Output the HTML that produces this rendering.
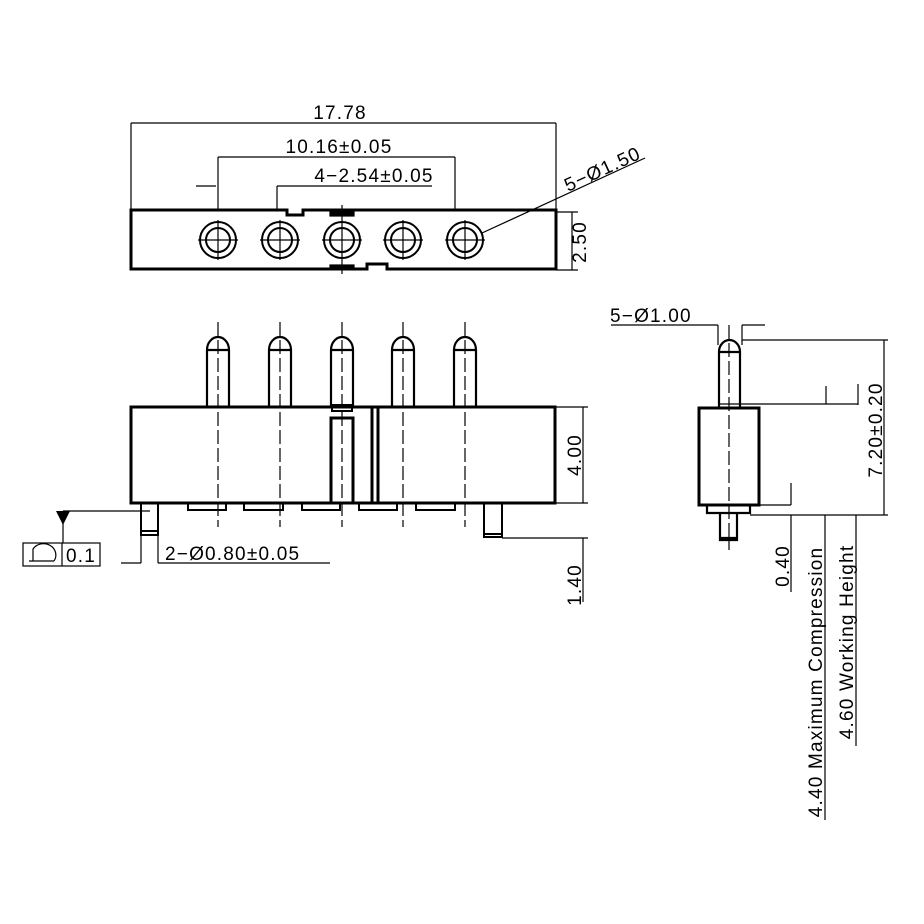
<!DOCTYPE html>
<html><head><style>html,body{margin:0;padding:0;background:#fff}svg{display:block}text{font-family:"Liberation Sans",sans-serif;font-size:19px;letter-spacing:1.2px;fill:#000;stroke:none}</style></head>
<body>
<svg width="924" height="924" viewBox="0 0 924 924" xmlns="http://www.w3.org/2000/svg" stroke="#000" fill="none">
<!-- TOP VIEW -->
<g stroke-width="1.2">
<line x1="131" y1="123" x2="556" y2="123"/><line x1="131" y1="123" x2="131" y2="209"/><line x1="556" y1="123" x2="556" y2="209"/>
<line x1="218" y1="157" x2="455" y2="157"/><line x1="218" y1="157" x2="218" y2="209"/><line x1="455" y1="157" x2="455" y2="209"/>
<line x1="196" y1="186" x2="216" y2="186"/>
<line x1="277" y1="186" x2="432" y2="186"/><line x1="277" y1="186" x2="277" y2="209"/>
<line x1="556" y1="212" x2="578" y2="212"/><line x1="556" y1="270" x2="578" y2="270"/><line x1="572" y1="212" x2="572" y2="270"/>
<line x1="482" y1="233" x2="645" y2="158"/>
</g>
<path d="M131 210 H287 V215 H303 V210 H556 V269 H387 V264 H367 V269 H131 Z" stroke-width="3"/>
<g stroke-width="2">
<circle cx="218" cy="240" r="18"/><circle cx="218" cy="240" r="12"/>
<circle cx="280" cy="240" r="18"/><circle cx="280" cy="240" r="12"/>
<circle cx="342" cy="240" r="18"/><circle cx="342" cy="240" r="12"/>
<circle cx="403" cy="240" r="18"/><circle cx="403" cy="240" r="12"/>
<circle cx="465" cy="240" r="18"/><circle cx="465" cy="240" r="12"/>
</g>
<g stroke-width="1.2">
<path d="M198 240H238M218 220V260M260 240H300M280 220V260M322 240H362M342 205V274M383 240H423M403 220V260M445 240H485M465 220V260"/>
<rect x="330" y="212" width="24" height="4" fill="#000"/><rect x="330" y="265" width="24" height="4" fill="#000"/>
</g>
<text x="340" y="119" text-anchor="middle">17.78</text>
<text x="339" y="153" text-anchor="middle">10.16±0.05</text>
<text x="374" y="182" text-anchor="middle">4−2.54±0.05</text>
<text transform="translate(586,242) rotate(-90)" text-anchor="middle">2.50</text>
<text transform="translate(568,192) rotate(-24.7)">5−Ø1.50</text>

<!-- FRONT VIEW -->
<g stroke-width="2.2">
<path d="M207 407V350A11 13 0 0 1 229 350V407M269 407V350A11 13 0 0 1 291 350V407M331 407V350A11 13 0 0 1 353 350V407M392 407V350A11 13 0 0 1 414 350V407M454 407V350A11 13 0 0 1 476 350V407"/>
<path d="M207 350H229M269 350H291M331 350H353M392 350H414M454 350H476"/>
</g>
<rect x="131" y="407" width="424" height="96" stroke-width="3"/>
<rect x="331" y="418" width="22" height="85" stroke-width="3"/>
<rect x="332" y="405" width="20" height="6" stroke-width="2"/>
<line x1="372" y1="407" x2="372" y2="503" stroke-width="3"/><line x1="378" y1="407" x2="378" y2="503" stroke-width="3"/>
<g stroke-width="2">
<rect x="188" y="503" width="38" height="7"/><rect x="244" y="503" width="39" height="7"/><rect x="302" y="503" width="38" height="7"/><rect x="359" y="503" width="38" height="7"/><rect x="416" y="503" width="39" height="7"/>
<path d="M141 503V535H158V503M141 531H158"/>
<path d="M484 503V537H502V503M484 534H502"/>
</g>
<g stroke-width="1.2" stroke-dasharray="14,4">
<path d="M218 322V527M280 322V527M342 322V527M403 322V527M465 322V527"/>
</g>
<g stroke-width="1.2">
<line x1="63" y1="511" x2="150" y2="511"/><line x1="63" y1="511" x2="63" y2="543"/>
<line x1="121" y1="563" x2="141" y2="563"/><line x1="141" y1="535" x2="141" y2="563"/><line x1="158" y1="535" x2="158" y2="563"/><line x1="158" y1="563" x2="330" y2="563"/>
<line x1="555" y1="407" x2="588" y2="407"/><line x1="555" y1="503" x2="588" y2="503"/><line x1="583" y1="407" x2="583" y2="503"/>
<line x1="502" y1="538" x2="588" y2="538"/><line x1="583" y1="538" x2="583" y2="602"/>
<rect x="23" y="543" width="77" height="23"/><line x1="62" y1="543" x2="62" y2="566"/>
<path d="M29 561H54M33 561V549A12 11 0 0 1 54 561"/>
</g>
<path d="M56 511H70L63 525Z" fill="#000" stroke="none"/>
<text x="66" y="562">0.1</text>
<text x="165" y="560">2−Ø0.80±0.05</text>
<text transform="translate(581,455) rotate(-90)" text-anchor="middle">4.00</text>
<text transform="translate(581,585) rotate(-90)" text-anchor="middle">1.40</text>

<!-- SIDE VIEW -->
<g stroke-width="2.2">
<path d="M719 408V352A10.5 12 0 0 1 740 352V408M719 352H740"/>
<rect x="699" y="408" width="60" height="97" stroke-width="3"/>
<path d="M707 505V513H750V505"/>
<path d="M720 513V540H737V513M720 538H737"/>
</g>
<line x1="729" y1="325" x2="729" y2="550" stroke-width="1.2" stroke-dasharray="14,4"/>
<g stroke-width="1.2">
<line x1="611" y1="325" x2="718" y2="325"/><line x1="742" y1="325" x2="765" y2="325"/>
<line x1="718" y1="325" x2="718" y2="345"/><line x1="742" y1="325" x2="742" y2="345"/>
<line x1="742" y1="340" x2="888" y2="340"/><line x1="884" y1="340" x2="884" y2="515"/><line x1="750" y1="515" x2="888" y2="515"/>
<line x1="720" y1="404" x2="858" y2="404"/><line x1="826" y1="386" x2="826" y2="404"/><line x1="858" y1="384" x2="858" y2="405"/>
<line x1="759" y1="505" x2="791" y2="505"/><line x1="791" y1="483" x2="791" y2="505"/>
<line x1="791" y1="515" x2="791" y2="592"/><line x1="825" y1="515" x2="825" y2="820"/><line x1="856" y1="515" x2="856" y2="746"/>
</g>
<text x="610" y="322">5−Ø1.00</text>
<text transform="translate(882,430) rotate(-90)" text-anchor="middle">7.20±0.20</text>
<text transform="translate(789,566) rotate(-90)" text-anchor="middle">0.40</text>
<text transform="translate(822,682) rotate(-90)" text-anchor="middle">4.40 Maximum Compression</text>
<text transform="translate(853,642) rotate(-90)" text-anchor="middle">4.60 Working Height</text>
</svg>
</body></html>
